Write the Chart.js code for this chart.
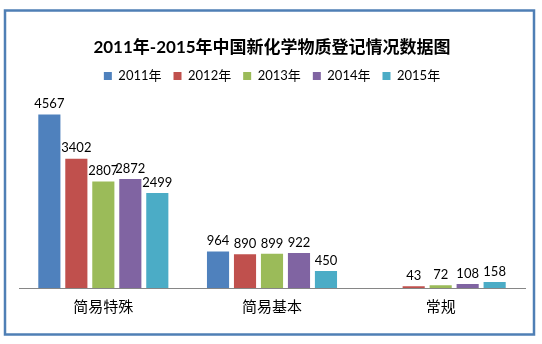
<!DOCTYPE html>
<html>
<head>
<meta charset="utf-8">
<script src="https://cdn.jsdelivr.net/npm/chart.js@4/dist/chart.umd.min.js"></script>
<style>
    html, body { margin: 0; padding: 0; background: #fff; }
    #wrap { width: 542px; height: 344px; position: relative; }
</style>
</head>
<body>
<div id="wrap"><canvas id="regChart"></canvas></div>
<script>
// Data
const categories = ['简易特殊', '简易基本', '常规'];
const years = ['2011年', '2012年', '2013年', '2014年', '2015年'];
const data2011 = [4567, 964, null];
const data2012 = [3402, 890, 43];
const data2013 = [2807, 899, 72];
const data2014 = [2872, 922, 108];
const data2015 = [2499, 450, 158];
const colors = ['#4F81BD', '#C0504D', '#9BBB59', '#8064A2', '#4BACC6'];

const fontFamily = 'Lato, "Noto Sans CJK SC", sans-serif';

// Draw value labels above each bar
const valueLabels = {
    id: 'valueLabels',
    afterDatasetsDraw(chart) {
        const ctx = chart.ctx;
        ctx.save();
        ctx.font = '13px ' + fontFamily;
        ctx.fillStyle = '#000';
        ctx.textAlign = 'center';
        ctx.textBaseline = 'bottom';
        chart.data.datasets.forEach((ds, i) => {
            const meta = chart.getDatasetMeta(i);
            meta.data.forEach((bar, j) => {
                const v = ds.data[j];
                if (v === null || v === undefined) return;
                ctx.fillText(String(v), bar.x, bar.y - 4);
            });
        });
        ctx.restore();
    }
};

// Outer frame of the chart area
const frame = {
    id: 'frame',
    afterDraw(chart) {
        const ctx = chart.ctx;
        ctx.save();
        ctx.strokeStyle = '#4F7FB5';
        ctx.lineWidth = 2.5;
        ctx.strokeRect(5, 10.5, 529, 324);
        ctx.restore();
    }
};

const datasets = [data2011, data2012, data2013, data2014, data2015].map((d, i) => ({
    label: years[i],
    data: d,
    backgroundColor: colors[i],
    categoryPercentage: 0.8,
    barPercentage: 0.82
}));

const regChart = new Chart(document.getElementById('regChart'), {
    type: 'bar',
    data: {
        labels: categories,
        datasets: datasets
    },
    options: {
        responsive: true,
        maintainAspectRatio: false,
        animation: false,
        layout: {
            padding: { top: 10, left: 19, right: 17, bottom: 18 }
        },
        plugins: {
            title: {
                display: true,
                text: '2011年-2015年中国新化学物质登记情况数据图',
                color: '#000',
                font: { family: fontFamily, size: 17, weight: 'bold' },
                padding: { top: 27, bottom: 0 }
            },
            legend: {
                display: true,
                labels: {
                    color: '#000',
                    font: { family: fontFamily, size: 13 },
                    boxWidth: 8,
                    boxHeight: 8,
                    padding: 12
                }
            },
            tooltip: { enabled: false }
        },
        scales: {
            x: {
                grid: { display: false, drawTicks: false },
                border: { display: true, color: '#868686', width: 1 },
                ticks: {
                    color: '#000',
                    font: { family: fontFamily, size: 15 },
                    padding: 10
                }
            },
            y: {
                display: false,
                min: 0,
                max: 5150
            }
        }
    },
    plugins: [valueLabels, frame]
});
</script>
</body>
</html>
